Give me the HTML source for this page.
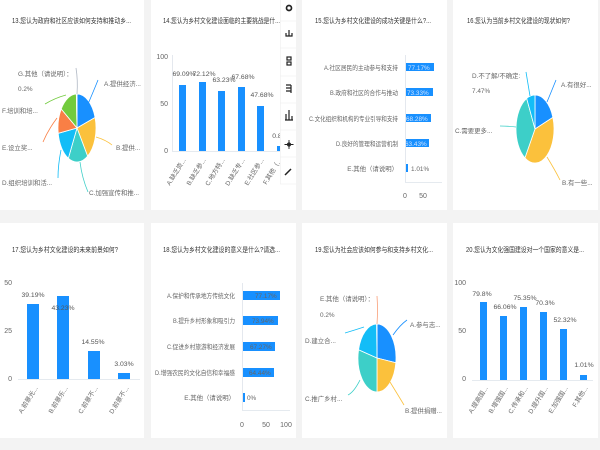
<!DOCTYPE html>
<html><head><meta charset="utf-8"><style>
html,body{margin:0;padding:0;background:#f3f3f3;}
svg{display:block;font-family:"Liberation Sans","Noto Sans CJK SC",sans-serif;}
.t{font-size:7px;fill:#333;}
.l{font-size:6.4px;fill:#666;}
.v{font-size:6.8px;fill:#555;}
.ax{font-size:7px;fill:#666;}
.ld{fill:none;stroke-width:0.8;}
.s{stroke:#fff;stroke-width:0.8;vector-effect:non-scaling-stroke;}
</style></head><body>
<svg width="600" height="450" viewBox="0 0 600 450" xmlns="http://www.w3.org/2000/svg">
<rect width="600" height="450" fill="#f3f3f3"/>
<rect x="0" y="0" width="144" height="210" fill="#fff"/>
<rect x="151" y="0" width="145" height="210" fill="#fff"/>
<rect x="302" y="0" width="145" height="210" fill="#fff"/>
<rect x="453" y="0" width="145" height="210" fill="#fff"/>
<rect x="0" y="223" width="144" height="215" fill="#fff"/>
<rect x="151" y="223" width="145" height="215" fill="#fff"/>
<rect x="302" y="223" width="145" height="215" fill="#fff"/>
<rect x="453" y="223" width="145" height="215" fill="#fff"/>

<!-- Panel 1 -->
<text class="t" x="12" y="23" textLength="119" lengthAdjust="spacingAndGlyphs">13.您认为政府和社区应该如何支持和推动乡...</text>
<g transform="translate(77,128) scale(19,34)">
<path class="s" fill="#1890ff" d="M0 0L0 -1A1 1 0 0 1 .951 -.309Z"/>
<path class="s" fill="#fbc13c" d="M0 0L.951 -.309A1 1 0 0 1 .559 .829Z"/>
<path class="s" fill="#3dcfc8" d="M0 0L.559 .829A1 1 0 0 1 -.454 .891Z"/>
<path class="s" fill="#13bdf7" d="M0 0L-.454 .891A1 1 0 0 1 -.988 .156Z"/>
<path class="s" fill="#f97f45" d="M0 0L-.988 .156A1 1 0 0 1 -.829 -.559Z"/>
<path class="s" fill="#72cb3e" d="M0 0L-.829 -.559A1 1 0 0 1 -.035 -.999Z"/>
<path class="s" fill="#b0b8c4" d="M0 0L-.035 -.999A1 1 0 0 1 0 -1Z"/>
</g>
<path class="ld" stroke="#1890ff" d="M88 104 Q94 90 98 80"/>
<path class="ld" stroke="#fbc13c" d="M96 137 Q106 140 112 145"/>
<path class="ld" stroke="#3dcfc8" d="M80 162 Q82 178 88 192"/>
<path class="ld" stroke="#13bdf7" d="M61 150 Q58 165 58 178"/>
<path class="ld" stroke="#f97f45" d="M57 118 Q48 130 43 142"/>
<path class="ld" stroke="#72cb3e" d="M66 95 Q55 98 45 104"/>
<path class="ld" stroke="#b0b8c4" d="M77 94 Q78 80 76 68"/>
<text class="l" x="104" y="86">A.提供经济...</text>
<text class="l" x="116" y="150">B.提供...</text>
<text class="l" x="89" y="195">C.加强宣传和推...</text>
<text class="l" x="2" y="185">D.组织培训和活...</text>
<text class="l" x="2" y="150">E.设立奖...</text>
<text class="l" x="2" y="113">F.培训和培...</text>
<text class="l" x="18" y="76">G.其他（请说明）：</text>
<text class="l" x="18" y="91">0.2%</text>

<!-- Panel 2 -->
<text class="t" x="163" y="23" textLength="117" lengthAdjust="spacingAndGlyphs">14.您认为乡村文化建设面临的主要挑战是什...</text>
<text class="ax" x="168" y="59" text-anchor="end">100</text>
<text class="ax" x="168" y="106" text-anchor="end">50</text>
<text class="ax" x="168" y="153" text-anchor="end">0</text>
<line x1="172.5" y1="55" x2="172.5" y2="151" stroke="#dde3ea" stroke-width="0.8"/>
<line x1="172" y1="151.5" x2="282" y2="151.5" stroke="#dde3ea" stroke-width="0.8"/>
<g fill="#1890ff">
<rect x="179" y="85" width="7" height="66"/>
<rect x="199" y="82" width="7" height="69"/>
<rect x="218" y="91" width="7" height="60"/>
<rect x="238" y="87" width="7" height="64"/>
<rect x="257" y="106" width="7" height="45"/>
<rect x="277" y="146" width="3" height="5"/>
</g>
<g class="v" text-anchor="middle">
<text x="184" y="76">69.09%</text><text x="204" y="76">72.12%</text>
<text x="224" y="82">63.23%</text><text x="243" y="79">67.68%</text>
<text x="262" y="97">47.68%</text><text x="277" y="138">0.8</text>
</g>
<g class="l">
<text transform="translate(186,160) rotate(-58)" text-anchor="end">A.缺乏资...</text>
<text transform="translate(206,160) rotate(-58)" text-anchor="end">B.缺乏参...</text>
<text transform="translate(225,160) rotate(-58)" text-anchor="end">C.地方特...</text>
<text transform="translate(245,160) rotate(-58)" text-anchor="end">D.缺乏专...</text>
<text transform="translate(264,160) rotate(-58)" text-anchor="end">E.社区参...</text>
<text transform="translate(282,160) rotate(-58)" text-anchor="end">F.其他（...</text>
</g>
<!-- toolbar -->
<rect x="280" y="0" width="16" height="184" fill="#fff"/>
<g stroke="#eee" stroke-width="0.6">
<line x1="280" y1="21" x2="296" y2="21"/><line x1="280" y1="48" x2="296" y2="48"/>
<line x1="280" y1="76" x2="296" y2="76"/><line x1="280" y1="103" x2="296" y2="103"/>
<line x1="280" y1="130" x2="296" y2="130"/><line x1="280" y1="157" x2="296" y2="157"/>
<line x1="280" y1="184" x2="296" y2="184"/><line x1="280.3" y1="0" x2="280.3" y2="184"/>
</g>
<g fill="#222" stroke="#222">
<circle cx="289" cy="8" r="2.5" fill="none" stroke-width="1.7"/>
<path d="M289 30v6M286 36h6M286 33v3h6v-3" fill="none" stroke-width="1.2"/>
<rect x="287" y="57" width="4" height="3" fill="none" stroke-width="1.2"/><rect x="287" y="62" width="4" height="3" fill="none" stroke-width="1.2"/>
<path d="M286 85h5M286 88h5M286 91h5M291 85v8" fill="none" stroke-width="1.2"/>
<path d="M286 120v-6M289 120v-10M292 120v-4M285 120h8" fill="none" stroke-width="1.2"/>
<path d="M289 140v9M284.5 144.5h9" fill="none" stroke-width="0.9"/>
<circle cx="289" cy="144.5" r="1.5" fill="none" stroke-width="1.2"/>
<path d="M285 175l6 -6" stroke-width="1.5"/>
</g>

<!-- Panel 3 -->
<text class="t" x="315" y="23" textLength="116" lengthAdjust="spacingAndGlyphs">15.您认为乡村文化建设的成功关键是什么?...</text>
<line x1="405.5" y1="55" x2="405.5" y2="182" stroke="#dde3ea" stroke-width="0.8"/>
<line x1="405" y1="182.5" x2="442" y2="182.5" stroke="#dde3ea" stroke-width="0.8"/>
<g fill="#1890ff">
<rect x="406" y="63" width="28" height="8"/>
<rect x="406" y="88" width="27" height="8"/>
<rect x="406" y="114" width="25" height="8"/>
<rect x="406" y="139" width="23" height="8"/>
<rect x="406" y="164" width="2" height="8"/>
</g>
<g class="l" text-anchor="end">
<text x="398" y="70" textLength="74" lengthAdjust="spacingAndGlyphs">A.社区居民的主动参与和支持</text>
<text x="398" y="95" textLength="68" lengthAdjust="spacingAndGlyphs">B.政府和社区的合作与推动</text>
<text x="398" y="121" textLength="89" lengthAdjust="spacingAndGlyphs">C.文化组织和机构的专业引导和支持</text>
<text x="398" y="146" textLength="62" lengthAdjust="spacingAndGlyphs">D.良好的管理和运营机制</text>
<text x="398" y="171">E.其他（请说明）</text>
</g>
<g class="l">
<text x="408" y="70" fill="#cfe3ff">77.17%</text>
<text x="407" y="95" fill="#cfe3ff">73.33%</text>
<text x="406" y="121" fill="#cfe3ff">68.28%</text>
<text x="405" y="146" fill="#cfe3ff">63.43%</text>
<text x="411" y="171" fill="#666">1.01%</text>
</g>
<text class="ax" x="405" y="198" text-anchor="middle">0</text>
<text class="ax" x="423" y="198" text-anchor="middle">50</text>

<!-- Panel 4 -->
<text class="t" x="467" y="23" textLength="103" lengthAdjust="spacingAndGlyphs">16.您认为当前乡村文化建设的现状如何?</text>
<g transform="translate(535,129) scale(19,34)">
<path class="s" fill="#1890ff" d="M0 0L0 -1A1 1 0 0 1 .940 -.342Z"/>
<path class="s" fill="#fbc13c" d="M0 0L.940 -.342A1 1 0 0 1 -.530 .848Z"/>
<path class="s" fill="#3dcfc8" d="M0 0L-.530 .848A1 1 0 0 1 -.438 -.899Z"/>
<path class="s" fill="#13bdf7" d="M0 0L-.438 -.899A1 1 0 0 1 0 -1Z"/>
</g>
<path class="ld" stroke="#1890ff" d="M547 102 Q552 90 556 80"/>
<path class="ld" stroke="#fbc13c" d="M547 157 Q555 170 560 180"/>
<path class="ld" stroke="#3dcfc8" d="M516 127 Q508 126 500 126"/>
<path class="ld" stroke="#13bdf7" d="M530 96 Q528 84 526 72"/>
<text class="l" x="561" y="87">A.有很好...</text>
<text class="l" x="562" y="185">B.有一些...</text>
<text class="l" x="455" y="133">C.需要更多...</text>
<text class="l" x="472" y="78">D.不了解/不确定:</text>
<text class="l" x="472" y="93">7.47%</text>

<!-- Panel 5 -->
<text class="t" x="12" y="252" textLength="106" lengthAdjust="spacingAndGlyphs">17.您认为乡村文化建设的未来前景如何?</text>
<text class="ax" x="12" y="285" text-anchor="end">50</text>
<text class="ax" x="12" y="333" text-anchor="end">25</text>
<text class="ax" x="12" y="381" text-anchor="end">0</text>
<line x1="18" y1="379.5" x2="140" y2="379.5" stroke="#dde3ea" stroke-width="0.8"/>
<g fill="#1890ff">
<rect x="27" y="304" width="12" height="75"/>
<rect x="57" y="296" width="12" height="83"/>
<rect x="88" y="351" width="12" height="28"/>
<rect x="118" y="373" width="12" height="6"/>
</g>
<g class="v" text-anchor="middle">
<text x="33" y="297">39.19%</text><text x="63" y="310">43.23%</text>
<text x="93" y="344">14.55%</text><text x="124" y="366">3.03%</text>
</g>
<g class="l">
<text transform="translate(38,388) rotate(-58)" text-anchor="end">A.前景光...</text>
<text transform="translate(68,388) rotate(-58)" text-anchor="end">B.前景乐...</text>
<text transform="translate(98,388) rotate(-58)" text-anchor="end">C.前景不...</text>
<text transform="translate(129,388) rotate(-58)" text-anchor="end">D.前景不...</text>
</g>

<!-- Panel 6 -->
<text class="t" x="163" y="252" textLength="117" lengthAdjust="spacingAndGlyphs">18.您认为乡村文化建设的意义是什么?请选...</text>
<line x1="242.5" y1="283" x2="242.5" y2="410" stroke="#dde3ea" stroke-width="0.8"/>
<line x1="242" y1="410.5" x2="290" y2="410.5" stroke="#dde3ea" stroke-width="0.8"/>
<g fill="#1890ff">
<rect x="243" y="291" width="37" height="9"/>
<rect x="243" y="316" width="35" height="9"/>
<rect x="243" y="342" width="32" height="9"/>
<rect x="243" y="368" width="31" height="9"/>
<rect x="243" y="393" width="2" height="9"/>
</g>
<g class="l" text-anchor="end">
<text x="235" y="298" textLength="68" lengthAdjust="spacingAndGlyphs">A.保护和传承地方传统文化</text>
<text x="235" y="323" textLength="62" lengthAdjust="spacingAndGlyphs">B.提升乡村形象和吸引力</text>
<text x="235" y="349" textLength="68" lengthAdjust="spacingAndGlyphs">C.促进乡村旅游和经济发展</text>
<text x="235" y="375" textLength="80" lengthAdjust="spacingAndGlyphs">D.增强农民的文化自信和幸福感</text>
<text x="235" y="400">E.其他（请说明）</text>
</g>
<g class="l" fill="#cfe3ff">
<text x="255" y="298">77.17%</text><text x="252" y="323">73.94%</text>
<text x="250" y="349">67.27%</text><text x="249" y="375">64.44%</text>
<text x="247" y="400" fill="#666">0%</text>
</g>
<text class="ax" x="242" y="427" text-anchor="middle">0</text>
<text class="ax" x="266" y="427" text-anchor="middle">50</text>
<text class="ax" x="286" y="427" text-anchor="middle">100</text>

<!-- Panel 7 -->
<text class="t" x="315" y="252" textLength="118" lengthAdjust="spacingAndGlyphs">19.您认为社会应该如何参与和支持乡村文化...</text>
<g transform="translate(377,358) scale(19,34)">
<path class="s" fill="#1890ff" d="M0 0L0 -1A1 1 0 0 1 .990 .139Z"/>
<path class="s" fill="#fbc13c" d="M0 0L.990 .139A1 1 0 0 1 0 1Z"/>
<path class="s" fill="#3dcfc8" d="M0 0L0 1A1 1 0 0 1 -.970 -.242Z"/>
<path class="s" fill="#13bdf7" d="M0 0L-.970 -.242A1 1 0 0 1 -.017 -1Z"/>
<path class="s" fill="#f9a07a" d="M0 0L-.017 -1A1 1 0 0 1 0 -1Z"/>
</g>
<path class="ld" stroke="#1890ff" d="M393 335 Q400 325 407 320"/>
<path class="ld" stroke="#fbc13c" d="M390 382 Q398 395 404 405"/>
<path class="ld" stroke="#3dcfc8" d="M360 380 Q354 392 348 395"/>
<path class="ld" stroke="#13bdf7" d="M364 327 Q355 330 345 333"/>
<path class="ld" stroke="#f9a07a" d="M377 324 Q378 310 377 296"/>
<text class="l" x="410" y="327">A.参与志...</text>
<text class="l" x="405" y="413">B.提供捐赠...</text>
<text class="l" x="305" y="401">C.推广乡村...</text>
<text class="l" x="305" y="343">D.建立合...</text>
<text class="l" x="320" y="301">E.其他（请说明）：</text>
<text class="l" x="320" y="317">0.2%</text>

<!-- Panel 8 -->
<text class="t" x="466" y="252" textLength="118" lengthAdjust="spacingAndGlyphs">20.您认为文化强国建设对一个国家的意义是...</text>
<text class="ax" x="466" y="285" text-anchor="end">100</text>
<text class="ax" x="466" y="333" text-anchor="end">50</text>
<text class="ax" x="466" y="381" text-anchor="end">0</text>
<line x1="472" y1="380.5" x2="593" y2="380.5" stroke="#dde3ea" stroke-width="0.8"/>
<g fill="#1890ff">
<rect x="480" y="302" width="7" height="78"/>
<rect x="500" y="316" width="7" height="64"/>
<rect x="520" y="307" width="7" height="73"/>
<rect x="540" y="312" width="7" height="68"/>
<rect x="560" y="329" width="7" height="51"/>
<rect x="580" y="375" width="7" height="5"/>
</g>
<g class="v" text-anchor="middle">
<text x="482" y="296">79.8%</text><text x="505" y="309">66.06%</text>
<text x="525" y="300">75.35%</text><text x="545" y="305">70.3%</text>
<text x="565" y="322">52.32%</text><text x="584" y="367">1.01%</text>
</g>
<g class="l">
<text transform="translate(488,388) rotate(-58)" text-anchor="end">A.提高国...</text>
<text transform="translate(508,388) rotate(-58)" text-anchor="end">B.增强国...</text>
<text transform="translate(528,388) rotate(-58)" text-anchor="end">C.传承和...</text>
<text transform="translate(548,388) rotate(-58)" text-anchor="end">D.提升国...</text>
<text transform="translate(568,388) rotate(-58)" text-anchor="end">E.加强国...</text>
<text transform="translate(588,388) rotate(-58)" text-anchor="end">F.其他...</text>
</g>
</svg>
</body></html>
